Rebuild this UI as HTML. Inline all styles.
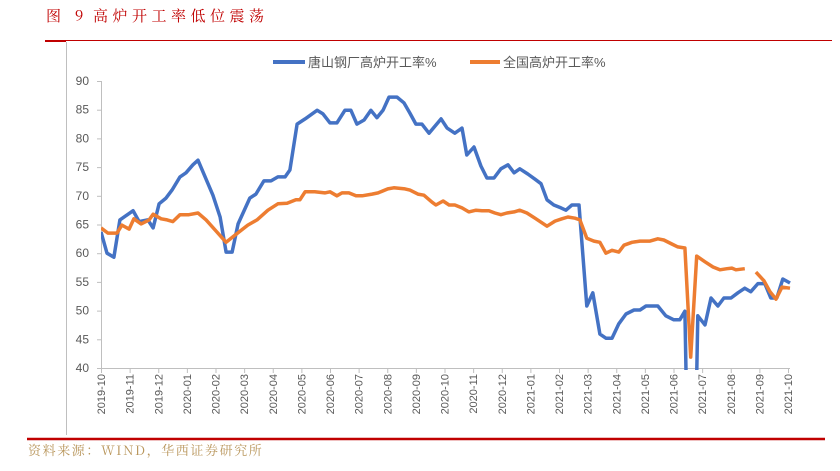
<!DOCTYPE html>
<html><head><meta charset="utf-8"><style>
body{margin:0;background:#fff;width:840px;height:466px;overflow:hidden;font-family:"Liberation Sans","Noto Sans CJK SC",sans-serif}
</style></head><body>
<svg width="840" height="466" xmlns="http://www.w3.org/2000/svg">
<text x="46" y="21" font-size="15" fill="#c00000" letter-spacing="5" font-family="'Noto Serif CJK SC',serif">图 9</text>
<text x="93" y="21" font-size="15" fill="#c00000" letter-spacing="4.5" font-family="'Noto Serif CJK SC',serif">高炉开工率低位震荡</text>
<line x1="45" y1="40.5" x2="832" y2="40.5" stroke="#c00000" stroke-width="1"/>
<line x1="45" y1="41" x2="66" y2="41" stroke="#c00000" stroke-width="2"/>
<line x1="66.5" y1="42" x2="66.5" y2="435" stroke="#bfbfbf" stroke-width="1"/>
<line x1="27" y1="439" x2="825" y2="439" stroke="#c00000" stroke-width="2.5"/>
<text x="28" y="455" font-size="13" fill="#b8955a" letter-spacing="1.6" font-family="'Noto Serif CJK SC',serif">资料来源：WIND，华西证券研究所</text>
<g>
<line x1="273" y1="62" x2="305" y2="62" stroke="#4472c4" stroke-width="4"/>
<text x="308" y="67" font-size="13" fill="#595959">唐山钢厂高炉开工率%</text>
<line x1="470" y1="62" x2="500" y2="62" stroke="#ed7d31" stroke-width="4"/>
<text x="503" y="67" font-size="13" fill="#595959">全国高炉开工率%</text>
</g>
<g id="axes"></g>
<g id="series"></g>
</svg>
<script>
const months=["2019-10","2019-11","2019-12","2020-01","2020-02","2020-03","2020-04","2020-05","2020-06","2020-07","2020-08","2020-09","2020-10","2020-11","2020-12","2021-01","2021-02","2021-03","2021-04","2021-05","2021-06","2021-07","2021-08","2021-09","2021-10"];
const yTicks=[40,45,50,55,60,65,70,75,80,85,90];
const blueT=[0,0.21,0.45,0.66,1.12,1.33,1.64,1.82,2.03,2.27,2.48,2.76,2.97,3.21,3.39,3.91,4.16,4.37,4.58,4.79,5.2,5.41,5.69,5.94,6.18,6.43,6.6,6.85,7.13,7.55,7.75,8.0,8.24,8.52,8.73,8.94,9.19,9.43,9.64,9.85,10.06,10.34,10.58,10.79,11.0,11.21,11.46,11.88,12.09,12.36,12.61,12.78,13.03,13.27,13.48,13.73,13.97,14.22,14.43,14.63,14.91,15.16,15.37,15.58,15.82,16.07,16.24,16.45,16.7,16.97,17.18,17.43,17.64,17.85,18.09,18.34,18.62,18.83,19.04,19.45,19.73,20.01,20.22,20.4,20.47,20.78,20.85,21.1,21.31,21.55,21.76,22.01,22.25,22.49,22.7,22.95,23.19,23.4,23.61,23.82,24.07];
const blueV=[63.7,60,59.3,65.8,67.4,65.5,65.8,64.4,68.6,69.6,71,73.3,74,75.4,76.2,70.1,66.3,60.2,60.2,65.1,69.6,70.3,72.6,72.6,73.3,73.3,74.5,82.5,83.4,84.9,84.3,82.7,82.7,84.9,84.9,82.5,83.2,84.9,83.6,84.9,87.2,87.2,86.2,84.4,82.5,82.5,80.9,83.4,81.8,80.9,81.8,77.1,78.5,75.2,73.1,73.1,74.7,75.4,74,74.7,73.8,72.9,72.1,69.3,68.4,67.9,67.5,68.4,68.4,50.8,53.1,45.9,45.2,45.2,47.7,49.4,50.1,50.1,50.8,50.8,49.1,48.4,48.4,49.9,30,30,49.1,47.5,52.2,50.8,52.2,52.2,53.1,53.9,53.3,54.7,54.7,52.2,52.2,55.5,54.8];
const orangeT=[0,0.24,0.56,0.73,0.98,1.15,1.4,1.68,1.82,2.1,2.31,2.51,2.76,3.07,3.39,3.67,4.05,4.37,4.72,5.13,5.45,5.83,6.18,6.5,6.81,6.95,7.13,7.47,7.82,8.0,8.24,8.42,8.66,8.91,9.12,9.47,9.68,10.02,10.23,10.62,10.79,11.07,11.28,11.56,11.7,11.95,12.16,12.36,12.61,12.85,13.1,13.31,13.55,13.76,13.97,14.18,14.43,14.63,14.88,15.16,15.37,15.58,15.86,16.1,16.31,16.56,16.73,16.97,17.22,17.43,17.64,17.85,18.09,18.27,18.55,18.83,19.18,19.45,19.66,19.94,20.15,20.4,20.6,20.81,21.1,21.38,21.62,21.87,22.04,22.18,22.49,22.7,22.88,23.16,23.37,23.58,23.79,24.07];
const orangeV=[64.4,63.5,63.5,64.9,64.2,66,65.1,65.8,66.8,66,65.8,65.5,66.7,66.7,67,65.8,63.7,61.9,63.3,64.9,65.8,67.5,68.6,68.7,69.3,69.3,70.7,70.7,70.5,70.7,70,70.5,70.5,70,70,70.3,70.5,71.2,71.4,71.2,71,70.3,70.1,68.9,68.4,69.1,68.4,68.4,67.9,67.2,67.5,67.4,67.4,67,66.7,67,67.2,67.5,67,66.1,65.4,64.7,65.6,66,66.3,66.1,65.8,62.6,62.1,61.9,60,60.5,60.2,61.4,61.9,62.1,62.1,62.5,62.3,61.6,61.1,60.9,41.9,59.5,58.5,57.6,57.1,57.3,57.4,57.1,57.3,null,56.7,55.2,53.3,52,54.1,53.9];
const X0=101,X1=788,Y0=368,Y1=81;
const sx=m=>X0+m*(X1-X0)/24;
const sy=v=>Y0-(v-40)*(Y0-Y1)/50;
const NS="http://www.w3.org/2000/svg";
function mk(tag,attrs,parent){const e=document.createElementNS(NS,tag);for(const k in attrs)e.setAttribute(k,attrs[k]);parent.appendChild(e);return e;}
const axes=document.getElementById('axes');
const yl=mk('line',{x1:X0+.5,y1:Y1,x2:X0+.5,y2:Y0,stroke:'#bfbfbf'},axes);


yTicks.forEach(v=>{
 const t=mk('line',{x1:X0-4,x2:X0,y1:sy(v)+.5,y2:sy(v)+.5,stroke:'#bfbfbf'},axes);
 
 
 const tx=mk('text',{x:89,y:sy(v)+4,'text-anchor':'end','font-size':12,fill:'#595959'},axes);
 tx.textContent=v;
 
 
});
const xl=mk('line',{x1:X0,y1:Y0+.5,x2:X1+2,y2:Y0+.5,stroke:'#bfbfbf'},axes);


months.forEach((m,i)=>{
 const x=sx(i);
 const t=mk('line',{x1:x+.5,x2:x+.5,y1:Y0,y2:Y0+5,stroke:'#bfbfbf'},axes);
 
 
 const tx=mk('text',{transform:`translate(${x+4},374) rotate(-90)`,'text-anchor':'end','font-size':11,fill:'#595959'},axes);
 tx.textContent=m;
 
 
});
const series=document.getElementById('series');
mk('clipPath',{id:'clip'},series).appendChild(document.createElementNS(NS,'rect'));
const cr=series.querySelector('#clip rect');cr.setAttribute('x',X0);cr.setAttribute('y',Y1-10);cr.setAttribute('width',X1-X0+10);cr.setAttribute('height',Y0-Y1+12);
function path(T,V){let d='',pen=false;T.forEach((t,i)=>{const v=V[i];if(v==null){pen=false;return;}d+=(pen?'L':'M')+sx(t).toFixed(1)+','+sy(v).toFixed(1);pen=true;});return d;}
const pb=mk('path',{d:path(blueT,blueV),fill:'none',stroke:'#4472c4','stroke-width':3.5,'stroke-linejoin':'round','clip-path':'url(#clip)'},series);


const po=mk('path',{d:path(orangeT,orangeV),fill:'none',stroke:'#ed7d31','stroke-width':3.5,'stroke-linejoin':'round','clip-path':'url(#clip)'},series);


</script>
</body></html>
